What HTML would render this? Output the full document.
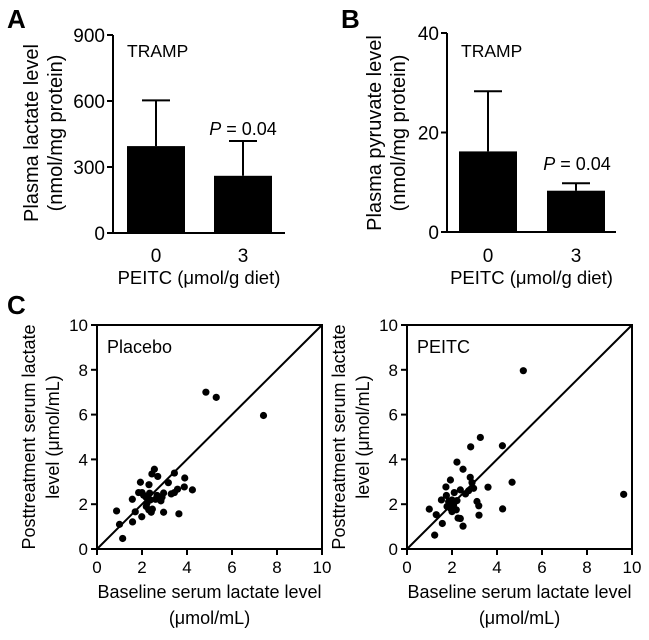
<!DOCTYPE html>
<html><head><meta charset="utf-8"><style>
body{margin:0;background:#fff;width:649px;height:635px;overflow:hidden}
svg text{font-family:"Liberation Sans",Arial,sans-serif;fill:#000}
</style></head><body>
<svg id="fig" width="649" height="635" xmlns="http://www.w3.org/2000/svg"></svg>
<script>
const barCats=["0","3"];
const lactMeans=[395,260];
const lactErr=[603,418];
const lactTicks=[0,300,600,900];
const pyrMeans=[16.2,8.3];
const pyrErr=[28.3,9.8];
const pyrTicks=[0,20,40];
const scatTicks=[0,2,4,6,8,10];
const placeboX=[4.84,5.3,7.4,0.87,1.0,1.14,1.57,1.58,1.7,1.93,1.99,1.85,2.0,2.07,2.18,2.19,2.31,2.34,2.3,2.41,2.46,2.44,2.55,2.7,2.6,2.67,2.84,2.89,2.96,2.96,3.17,3.3,3.44,3.44,3.58,3.64,3.88,3.9,4.24,2.22,2.37];
const placeboY=[7.0,6.77,5.96,1.7,1.1,0.47,2.22,1.21,1.66,2.98,1.44,2.52,2.52,2.4,2.31,1.9,2.87,2.49,1.75,1.64,1.78,3.35,3.56,3.24,2.22,2.39,2.15,2.31,2.5,1.64,2.96,2.46,2.52,3.39,2.67,1.57,2.77,3.17,2.64,2.04,2.19];
const peitcX=[5.17,9.63,3.26,2.83,4.24,2.22,2.49,2.81,2.89,1.93,1.73,3.6,4.67,2.96,2.37,2.1,2.6,1.75,1.53,1.85,2.0,2.22,3.11,3.19,2.07,1.78,1.93,2.19,2.0,0.99,1.3,3.2,4.25,1.57,2.27,2.37,2.49,1.23,2.74];
const peitcY=[7.96,2.44,4.98,4.56,4.61,3.88,3.56,3.2,2.96,3.08,2.77,2.76,2.98,2.71,2.64,2.52,2.46,2.39,2.19,2.12,2.19,2.16,2.12,1.93,1.97,1.9,1.82,1.75,1.67,1.78,1.53,1.51,1.79,1.14,1.38,1.36,1.02,0.62,2.6];

const NS="http://www.w3.org/2000/svg";
const svg=document.getElementById('fig');
function mk(tag,attrs,parent){const e=document.createElementNS(NS,tag);for(const k in attrs)e.setAttribute(k,attrs[k]);(parent||svg).appendChild(e);return e;}
function txt(s,x,y,size,anchor,parent,extra){const t=mk('text',Object.assign({x:x,y:y,'font-size':size,'text-anchor':anchor||'start'},extra||{}),parent);t.textContent=s;return t;}

function barPanel(o){
  const g=mk('g',{});
  
  
  const ys=v=>o.y1-(v-o.ticks[0])/(o.ticks[o.ticks.length-1]-o.ticks[0])*(o.y1-o.y0);
  const ax=mk('path',{d:`M${o.ax},${o.y0}V${o.y1}H${o.xEnd}`,stroke:'#000','stroke-width':2,fill:'none'},g);
  
  o.ticks.forEach(t=>{mk('line',{x1:o.ax-6,x2:o.ax,y1:ys(t),y2:ys(t),stroke:'#000','stroke-width':2},g);
    const l=txt(String(t),o.ax-8,ys(t)+7,19,'end',g);
    });
  o.means.forEach((m,i)=>{
    const bx=o.barX[i];
    const e=mk('path',{d:`M${bx+o.bw/2},${ys(m)}V${ys(o.err[i])}M${bx+o.bw/2-14},${ys(o.err[i])}H${bx+o.bw/2+14}`,stroke:'#000','stroke-width':2,fill:'none'},g);
    
    const r=mk('rect',{x:bx,y:ys(m),width:o.bw,height:o.y1-ys(m),fill:'#000'},g);
    
    const l=txt(barCats[i],bx+o.bw/2,262,19,'middle',g);
    
  });
  const t1=txt(o.title1,o.tx1,o.ty,20,'middle',g,{transform:`rotate(-90 ${o.tx1} ${o.ty})`});
  
  const t2=txt(o.title2,o.tx2,o.ty,20,'middle',g,{transform:`rotate(-90 ${o.tx2} ${o.ty})`});
  
  const xt=txt('PEITC (\u03bcmol/g diet)',(o.ax+o.xEnd)/2,284,18.5,'middle',g);
  
  const tr=txt('TRAMP',o.ax+14,57,17.5,'start',g);
  
  const p=mk('text',{x:o.px,y:o.py,'font-size':18,'text-anchor':'middle'},g);
  p.innerHTML='<tspan font-style="italic">P</tspan> = 0.04';
  
  const L=txt(o.letter,o.lx,28,26,'start',g,{'font-weight':'bold'});
  
}
barPanel({name:'panel-a-lactate',ax:113,y0:35,y1:233,xEnd:285,ticks:lactTicks,means:lactMeans,err:lactErr,barX:[127,214],bw:58,title1:'Plasma lactate level',title2:'(nmol/mg protein)',tx1:38,tx2:62,ty:133,px:243,py:135,letter:'A',lx:7});
barPanel({name:'panel-b-pyruvate',ax:447,y0:33,y1:232,xEnd:616,ticks:pyrTicks,means:pyrMeans,err:pyrErr,barX:[459,547],bw:58,title1:'Plasma pyruvate level',title2:'(nmol/mg protein)',tx1:381,tx2:405,ty:133,px:577,py:170,letter:'B',lx:341});

function scatter(o){
  const g=mk('g',{});
  
  
  const x0=o.x0,x1=o.x0+225,y0=325,y1=549;
  const xs=v=>x0+v/10*(x1-x0), ys=v=>y1-v/10*(y1-y0);
  const f=mk('rect',{x:x0,y:y0,width:x1-x0,height:y1-y0,fill:'none',stroke:'#000','stroke-width':2},g);
  
  const d=mk('line',{x1:xs(0),y1:ys(0),x2:xs(10),y2:ys(10),stroke:'#000','stroke-width':2},g);
  
  scatTicks.forEach(t=>{
    mk('line',{x1:xs(t),x2:xs(t),y1:y1,y2:y1+6,stroke:'#000','stroke-width':2},g);
    mk('line',{x1:x0-6,x2:x0,y1:ys(t),y2:ys(t),stroke:'#000','stroke-width':2},g);
    const a=txt(String(t),xs(t),y1+24,17,'middle',g);
    
    const b=txt(String(t),x0-9,ys(t)+6,17,'end',g);
    
  });
  o.xs.forEach((v,i)=>{
    const c=mk('circle',{cx:xs(v),cy:ys(o.ys[i]),r:3.6,fill:'#000'},g);
    
  });
  const l=txt(o.label,x0+10,353,18,'start',g);
  
  const cx=(x0+x1)/2;
  const a=txt('Baseline serum lactate level',cx,598,18,'middle',g);
  
  const b=txt('(\u03bcmol/mL)',cx,624,18,'middle',g);
  
  const ty=437;
  const c1=txt('Posttreatment serum lactate',o.x0-62,ty,18,'middle',g,{transform:`rotate(-90 ${o.x0-62} ${ty})`});
  
  const c2=txt('level (\u03bcmol/mL)',o.x0-38,ty,18,'middle',g,{transform:`rotate(-90 ${o.x0-38} ${ty})`});
  
}
scatter({name:'panel-c-placebo',x0:97,xs:placeboX,ys:placeboY,label:'Placebo'});
scatter({name:'panel-c-peitc',x0:407,xs:peitcX,ys:peitcY,label:'PEITC'});
const C=txt('C',7,314,26,'start',svg,{'font-weight':'bold'});


</script>
</body></html>
